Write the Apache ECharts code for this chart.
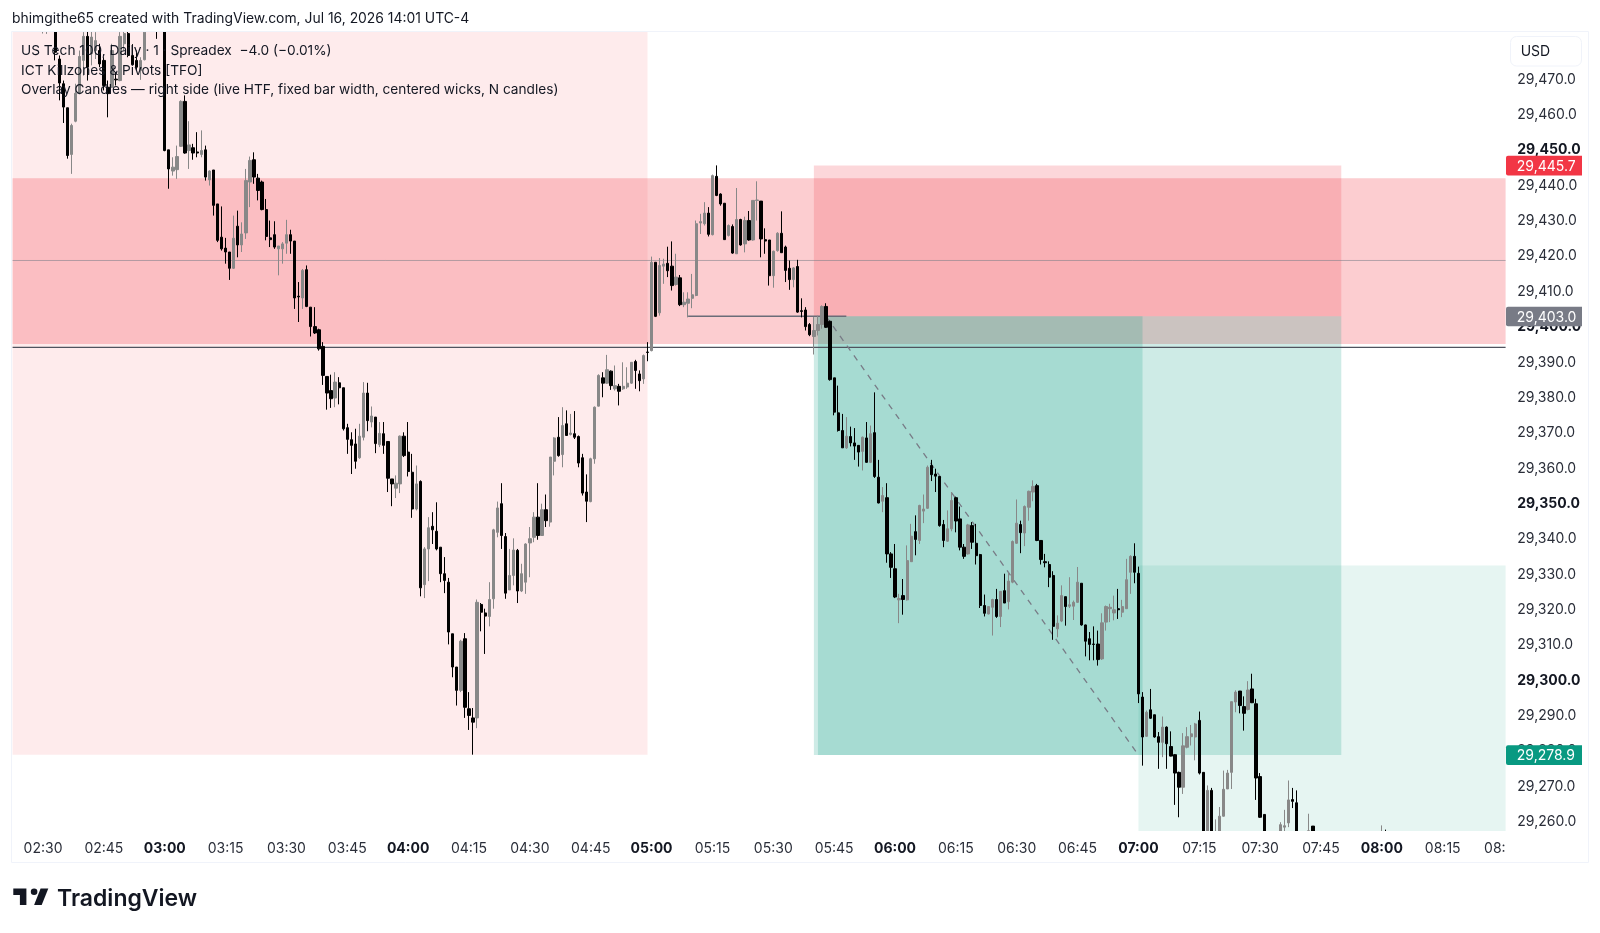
<!DOCTYPE html>
<html>
<head>
<meta charset="utf-8">
<title>US Tech 100 1-minute chart</title>
<script src="https://cdn.jsdelivr.net/npm/echarts@6/dist/echarts.min.js"></script>
<style>html,body{margin:0;padding:0;background:#fff}#chart{width:1600px;height:933px}</style>
</head>
<body>
<div id="chart"></div>
<script>
// Candle values, one per minute from 02:23.
const opens = [
29505,29500,29506,29500,29496,29502,29498,29495,29495,29498,
29490,29475.8,29468.8,29462.0,29448.8,29458.2,29466.0,29475.4,29482.2,29477.3,
29478.2,29478.2,29475.4,29467.8,29467.8,29470.1,29469.7,29480.1,29483,29476.8,
29475.4,29472.5,29475.6,29495,29490,29497,29490,29500,29450.1,29444.1,
29444.5,29451.1,29463.8,29449.9,29450.7,29449.5,29448.8,29450.1,29441.6,29444.4,
29434.8,29425.4,29422.3,29421.2,29416.6,29428.5,29423.2,29426.6,29441.0,29447.3,
29442.1,29441.0,29433.2,29425.2,29426.1,29422.1,29422.1,29423.7,29426.1,29424.3,
29408.7,29408.2,29416.2,29405.6,29400.1,29399.2,29394.5,29386.0,29382.0,29379.9,
29384.2,29382.8,29371.5,29368.1,29366.9,29363.0,29368.8,29381.3,29373.1,29374.5,
29366.7,29369.8,29367.6,29357.0,29354.4,29355.6,29369.1,29364.6,29358.9,29348.5,
29356.3,29327.1,29337.2,29343.6,29342.2,29337.7,29330.2,29327.8,29313.2,29303.8,
29297.2,29311.8,29292.0,29289.4,29289.4,29321.5,29319.1,29318.1,29323.1,29341.9,
29350.0,29340.7,29325.6,29329.7,29336.8,29325.3,29327.8,29338.9,29340.5,29346.2,
29341.0,29348.3,29344.8,29362.0,29368.8,29363.9,29372.6,29369.6,29369.8,29369.0,
29363.0,29353.3,29350.6,29362.7,29377.6,29385.6,29384.1,29387.5,29382.5,29383.2,
29382.5,29383.0,29384.1,29390.2,29386.7,29385.3,29392.9,29393.3,29418.3,29404.0,
29417.2,29418.0,29417.2,29412.0,29413.9,29406.3,29406.7,29408.1,29408.9,29429.4,
29429.2,29432.2,29426.1,29442.6,29437.6,29435.0,29425.9,29428.4,29420.7,29430.4,
29423.5,29430.1,29424.6,29435.8,29435.6,29424.7,29424.6,29414.5,29421.6,29426.5,
29422.6,29416.6,29413.4,29417.1,29404.6,29404.8,29400.7,29397.3,29399.0,29400.7,
29405.8,29401.6,29385.6,29375.7,29370.7,29365.8,29369.0,29367.2,29366.5,29364.8,
29368.6,29361.7,29370.1,29357.5,29350.7,29351.7,29335.8,29331.6,29322.8,29324.0,
29322.8,29333.6,29342.1,29339.6,29347.9,29348.7,29360.8,29358.4,29357.7,29344.1,
29339.4,29342.9,29351.7,29345.7,29337.7,29335.8,29343.8,29338.8,29335.6,29321.2,
29318.8,29320.7,29322.9,29318.1,29325.4,29322.3,29327.8,29338.8,29344.1,29341.7,
29349.0,29353.3,29355.1,29339.6,29333.6,29332.8,29329.7,29314.6,29316.8,29323.7,
29321.0,29321.0,29322.1,29327.5,29315.7,29311.8,29310.3,29310.3,29306.1,29316.5,
29320.3,29319.1,29320.3,29319.3,29320.3,29330.6,29335.1,29330.3,29295.3,29284.2,
29291.7,29290.3,29284.1,29282.5,29286.8,29281.3,29279.0,29274.0,29269.8,29281.1,
29284.1,29284.0,29288.7,29274.0,29250,29268.9,29252,29254,29261.6,29269.3,
29274.0,29293.9,29297.0,29292.6,29291.8,29297.6,29293.4,29272.8,29262.1,29244,
29250,29247,29253,29258.5,29259.7,29266.3,29265.4,29250,29244,29252,
29258.8,29252,29246,29250,29255,29248,29243,29247,29253,29246,
29250,29254,29248,29252,29247,29250,29254,29250,29255
];
const closes = [
29500,29506,29500,29496,29502,29498,29503,29500,29500,29490,
29477.7,29469.0,29462.2,29448.5,29457.0,29466.1,29476.5,29482.2,29473.5,29482,
29481,29474.4,29468.3,29466.0,29478.2,29469.9,29482.2,29483,29476.8,29474.2,
29473.5,29475.4,29483.4,29490,29497,29490,29500,29449.9,29444.7,29445.2,
29448.2,29463.8,29449.2,29451.5,29449.2,29449.2,29449.9,29442.4,29444.1,29434.4,
29424.5,29422.1,29421.2,29416.6,29425.1,29423.2,29426.3,29441.4,29447.1,29442.4,
29438.6,29433.2,29425.6,29424.7,29422.6,29422.9,29423.5,29426.1,29424.3,29408.2,
29408.5,29416.0,29405.8,29400.1,29398.3,29393.8,29386.3,29381.3,29379.7,29384.4,
29382.8,29371.2,29368.2,29366.5,29362.0,29369.1,29381.3,29373.5,29374.8,29367.0,
29369.9,29366.5,29357.2,29355.6,29355.8,29369.1,29363.6,29359.1,29348.5,29355.6,
29326.2,29337.2,29343.2,29342.6,29337.2,29330.2,29328.3,29313.7,29303.8,29297.2,
29311.1,29292.4,29290.1,29288.2,29322.1,29319.3,29318.2,29322.9,29342.6,29348.8,
29341.0,29324.7,29329.7,29336.9,29325.3,29330.2,29338.6,29340.1,29346.2,29341.0,
29348.3,29345.2,29363.2,29368.6,29363.6,29372.1,29369.3,29370.0,29368.8,29361.5,
29353.0,29350.7,29362.7,29377.3,29386.3,29384.1,29387.9,29383.4,29383.4,29381.8,
29383.2,29384.1,29390.0,29387.7,29384.8,29391.9,29392.8,29418.3,29403.0,29417.4,
29417.8,29415.9,29411.7,29414.1,29406.3,29407.0,29407.9,29409.1,29429.2,29429.8,
29432.2,29426.2,29442.8,29437.2,29434.8,29424.7,29428.7,29420.9,29430.4,29423.2,
29430.1,29424.6,29435.8,29435.9,29424.9,29424.3,29414.5,29421.4,29426.5,29421.0,
29416.0,29413.4,29416.7,29404.2,29404.4,29400.1,29397.8,29399.0,29400.7,29405.8,
29399.9,29385.1,29375.9,29370.7,29365.8,29369.1,29367.2,29366.3,29364.6,29368.8,
29361.7,29369.8,29357.7,29350.2,29352.3,29335.8,29332.0,29323.6,29323.2,29322.9,
29333.9,29340.8,29339.9,29349.5,29348.5,29360.3,29358.2,29357.8,29343.8,29339.6,
29342.9,29350.9,29345.1,29337.7,29335.1,29344.0,29339.1,29335.3,29321.2,29319.0,
29320.9,29322.9,29318.1,29325.2,29321.9,29328.1,29339.3,29344.5,29341.8,29349.2,
29353.5,29354.9,29339.6,29334.2,29333.3,29329.2,29315.3,29316.2,29324.0,29320.9,
29321.4,29322.1,29327.8,29315.7,29311.1,29310.2,29310.2,29305.9,29316.3,29320.9,
29320.7,29320.0,29320.0,29320.9,29328.5,29335.1,29330.6,29296.2,29284.0,29291.0,
29289.3,29284.0,29282.5,29286.8,29282.1,29278.6,29273.8,29269.8,29281.5,29284.1,
29284.9,29287.7,29273.8,29250,29268.9,29252,29256,29261.6,29269.2,29273.8,
29294.0,29296.7,29292.9,29290.7,29297.3,29293.7,29272.4,29261.3,29250,29250,
29247,29253,29259.2,29258.9,29266.2,29265.8,29250,29244,29252,29257.5,
29252,29246,29250,29255,29248,29243,29247,29253,29246,29250,
29254,29248,29252,29247,29250,29254,29250,29255,29251
];
const highs = [
29508,29510,29509,29503,29505,29506,29506,29505,29504,29500,
29492,29476.8,29469.7,29462.0,29457.5,29468.8,29478.2,29483.4,29485,29484,
29483.4,29480.1,29476.3,29469.7,29480.1,29472.1,29483.4,29486,29487,29480,
29478.2,29476.3,29486,29498,29499,29500,29503,29503,29450.1,29448.0,
29451.3,29464.1,29465.5,29458.2,29451.8,29455.1,29455.6,29451.3,29444.3,29444.4,
29434.8,29434.1,29425.2,29421.2,29431.5,29432.9,29429.6,29444.7,29448.2,29449.4,
29443.3,29441.4,29436.2,29430.1,29429.9,29422.9,29424.0,29430.3,29427.5,29424.3,
29412.7,29416.4,29417.4,29405.6,29405.6,29399.5,29395.7,29386.0,29386.5,29387.2,
29385.8,29382.8,29372.6,29370.2,29371.2,29372.6,29384.4,29384.2,29377.5,29374.5,
29373.1,29373.1,29367.6,29357.0,29358.0,29369.3,29370.2,29373.1,29364.1,29360.8,
29356.6,29337.7,29346.2,29347.6,29350.4,29337.7,29334.9,29329.0,29313.2,29303.8,
29311.5,29313.4,29296.7,29292.2,29322.9,29321.9,29320.3,29327.8,29342.9,29350.6,
29355.8,29341.7,29337.2,29340.2,29337.2,29333.0,29338.8,29343.4,29347.6,29355.8,
29350.0,29352.6,29363.2,29368.8,29374.5,29377.3,29376.4,29375.4,29376.2,29369.3,
29364.1,29358.3,29363.0,29377.5,29386.6,29387.2,29392.1,29387.7,29389.1,29383.9,
29390.0,29388.6,29390.0,29390.7,29387.7,29392.2,29395.7,29419.9,29418.3,29419.5,
29419.3,29422.7,29424.2,29420.7,29414.7,29409.8,29409.8,29415.0,29430.1,29432.0,
29435.3,29433.9,29443.1,29445.7,29437.8,29435.0,29429.0,29429.0,29439.3,29430.6,
29431.2,29432.8,29435.8,29441.2,29435.6,29427.9,29424.6,29421.6,29426.8,29432.7,
29423.0,29418.8,29416.9,29419.0,29408.1,29405.6,29401.1,29402.8,29403.2,29406.1,
29406.7,29401.8,29385.6,29383.4,29375.4,29374.5,29371.8,29371.4,29366.5,29369.0,
29373.1,29372.1,29381.5,29362.4,29354.7,29355.8,29336.3,29338.6,29324.5,29328.7,
29338.2,29344.3,29346.7,29349.7,29352.6,29360.8,29362.4,29359.9,29357.7,29345.4,
29348.1,29353.3,29352.0,29349.2,29338.6,29344.3,29344.8,29344.3,29335.8,29324.3,
29320.9,29323.1,29325.9,29325.2,29330.2,29330.6,29339.6,29351.2,29345.2,29349.5,
29353.7,29356.6,29355.6,29339.6,29335.8,29333.7,29330.9,29318.4,29326.9,29323.7,
29329.2,29322.6,29332.1,29327.5,29315.8,29313.7,29315.3,29314.1,29319.0,29321.2,
29321.7,29324.0,29325.9,29322.8,29334.4,29335.4,29338.8,29332.2,29296.7,29291.5,
29297.6,29290.3,29285.4,29289.8,29287.0,29285.6,29279.2,29274.2,29285.1,29286.8,
29287.4,29288.0,29291.2,29274.0,29270.3,29269.6,29260.7,29264.2,29274.5,29274.7,
29294.0,29297.2,29297.0,29295.5,29299.8,29301.9,29294.8,29273.8,29262.1,29253,
29251,29255,29259.9,29263.4,29271.7,29269.6,29268.9,29252,29254,29262.3,
29258.8,29254,29252,29256,29256,29250,29249,29255,29254,29252,
29256,29255,29253,29254,29251,29255,29256,29259,29257.8
];
const lows = [
29497,29498,29496,29494,29493,29495,29495,29483,29482.9,29486,
29475.4,29464.1,29457.7,29447.6,29443.3,29457.9,29465.8,29471.1,29469.7,29474.0,
29475.8,29473.5,29466.9,29459.3,29467.6,29468.3,29469.5,29478.2,29476.3,29474.0,
29472.4,29469.9,29475.4,29487,29488,29481.5,29487,29449.7,29439.1,29442.8,
29441.9,29450.9,29449.0,29444.7,29447.3,29448.0,29448.0,29441.4,29440.0,29431.5,
29424.0,29421.6,29417.9,29413.3,29416.4,29419.7,29421.2,29424.9,29433.9,29440.5,
29435.8,29433.0,29424.5,29422.6,29422.1,29414.6,29417.9,29420.7,29420.7,29405.1,
29401.4,29405.1,29405.6,29397.3,29398.0,29393.3,29383.6,29376.6,29377.1,29377.3,
29378.1,29370.7,29364.1,29358.4,29359.9,29362.7,29367.9,29370.5,29371.6,29364.3,
29366.0,29364.1,29353.3,29349.3,29351.6,29353.0,29363.2,29357.7,29346.0,29348.1,
29323.8,29323.3,29328.1,29338.6,29336.8,29327.8,29324.7,29310.2,29300.9,29292.9,
29296.7,29289.4,29286.0,29279.0,29286.5,29313.9,29307.5,29315.3,29320.3,29340.5,
29337.2,29323.1,29325.6,29326.9,29321.9,29325.0,29324.5,29329.2,29339.1,29339.8,
29341.0,29343.4,29343.5,29358.0,29363.3,29360.3,29369.3,29369.3,29368.3,29360.3,
29352.3,29344.8,29350.4,29361.3,29377.5,29380.1,29383.9,29382.2,29382.0,29377.8,
29382.2,29382.5,29383.9,29382.5,29381.8,29383.9,29390.3,29393.1,29402.8,29403.2,
29412.2,29414.1,29410.3,29411.7,29405.9,29405.6,29402.7,29405.3,29408.7,29426.3,
29428.7,29425.6,29425.9,29437.0,29434.3,29424.6,29425.6,29420.7,29420.7,29423.0,
29421.1,29424.4,29424.4,29430.1,29419.7,29420.7,29411.7,29411.1,29421.3,29421.0,
29412.7,29410.5,29411.2,29404.0,29402.7,29399.0,29397.4,29392.2,29397.6,29399.5,
29399.7,29384.8,29375.0,29370.4,29365.8,29365.5,29366.2,29362.4,29360.5,29359.4,
29361.6,29361.5,29357.3,29350.1,29347.6,29333.3,29329.0,29323.3,29316.2,29318.6,
29322.6,29333.5,29335.4,29338.6,29344.5,29348.5,29356.4,29353.3,29343.5,29337.7,
29339.2,29342.2,29341.9,29336.8,29334.4,29335.6,29337.2,29332.8,29320.5,29318.1,
29318.7,29312.7,29317.7,29315.1,29321.9,29320.1,29327.5,29338.6,29336.0,29338.0,
29345.2,29350.7,29339.4,29332.8,29332.0,29326.4,29311.5,29312.2,29316.5,29315.5,
29320.5,29317.1,29321.9,29315.5,29306.8,29305.7,29305.7,29304.2,29305.8,29314.1,
29316.5,29317.0,29317.4,29317.9,29320.3,29324.5,29327.5,29293.6,29275.9,29284.0,
29289.1,29283.8,29275.0,29278.3,29275.0,29278.5,29264.8,29261.3,29267.9,29280.8,
29281.6,29277.4,29273.4,29245,29247,29250,29250,29252,29261.5,29269.3,
29269.3,29291.0,29290.7,29285.8,29291.5,29293.6,29266.2,29261.1,29246,29241,
29244,29245,29251,29255,29258.5,29263.9,29248,29242,29242,29250,
29250,29244,29244,29248,29246,29241,29241,29245,29244,29244,
29248,29246,29246,29245,29245,29248,29248,29248,29249
];

// Time axis: one category per minute, 02:23 to 08:30.
const firstMinute = 2 * 60 + 23;
const lastMinute = 8 * 60 + 30;
const minuteCategories = [];
for (let m = firstMinute; m <= lastMinute; m++) {
  minuteCategories.push(String(Math.floor(m / 60)).padStart(2, '0') + ':' + String(m % 60).padStart(2, '0'));
}
const lastIdx = minuteCategories.length - 1;

// Price levels
const stopPrice = 29445.7;
const entryPrice = 29403.0;
const targetPrice = 29278.9;
const sessionLow = 29279.0;
const zoneHigh = 29442.1;
const zoneLow = 29395.2;
const midLevel = 29418.8;
const pivotLevel = 29394.2;
const greenBandTop = 29332.5;

const legendLines = [
  'US Tech 100, Daily · 1 · Spreadex  −4.0 (−0.01%)',
  'ICT Killzones & Pivots [TFO]',
  'Overlay Candles — right side (live HTF, fixed bar width, centered wicks, N candles)'
];
const watermark = 'bhimgithe65 created with TradingView.com, Jul 16, 2026 14:01 UTC-4';

const FONT = 'Inter, "Noto Sans", sans-serif';
const fmt = v => v.toLocaleString('en-US', {minimumFractionDigits: 1, maximumFractionDigits: 1});

function zone(name, i0, hi, i1, lo, color) {
  return {
    type: 'custom', name, z: 1, clip: true, silent: true,
    data: [[i0, hi, i1, lo]],
    renderItem(params, api) {
      const a = api.value(0), b = api.value(2);
      const half = api.size([1, 0])[0] / 2;
      const p0 = api.coord([a, api.value(1)]);
      const p1 = api.coord([b, api.value(3)]);
      const x0 = a === 0 ? p0[0] - half : p0[0];
      const x1 = b === lastIdx ? p1[0] + half : p1[0];
      return {type: 'rect', shape: {x: x0, y: p0[1], width: x1 - x0, height: p1[1] - p0[1]}, style: {fill: color}};
    }
  };
}
function level(name, i0, p0, i1, p1, color, width, dash) {
  return {
    type: 'custom', name, z: 2, clip: true, silent: true,
    data: [[i0, p0, i1, p1]],
    renderItem(params, api) {
      const half = api.size([1, 0])[0] / 2;
      const a = api.coord([api.value(0), api.value(1)]);
      const b = api.coord([api.value(2), api.value(3)]);
      const x0 = api.value(0) === 0 ? a[0] - half : a[0];
      const x1 = api.value(2) === lastIdx ? b[0] + half : b[0];
      return {type: 'line', shape: {x1: x0, y1: a[1], x2: x1, y2: b[1]},
        style: {stroke: color, lineWidth: width, lineDash: dash || null}};
    }
  };
}
function priceTag(name, price, color) {
  return {
    type: 'custom', name, z: 60, clip: false, silent: true,
    data: [[0, price]],
    renderItem(params, api) {
      const y = api.coord([0, api.value(1)])[1];
      const cs = params.coordSys;
      const left = cs.x + cs.width + 0.4;
      return {type: 'group', children: [
        {type: 'rect', shape: {x: left, y: y - 9.7, width: 76, height: 19.7, r: [2, 0, 0, 2]}, style: {fill: color}},
        {type: 'text', style: {text: fmt(api.value(1)), x: left + 10.8, y: y + 1, fill: '#ffffff', font: '14px ' + FONT, verticalAlign: 'middle'}}
      ]};
    }
  };
}

const candleData = opens.map((o, i) => [o, closes[i], lows[i], highs[i]]);

const textEl = (text, x, y, font, fill) => ({
  type: 'text', z: 100, silent: true, x, y,
  style: {text, fill: fill || '#131722', font: font || ('14px ' + FONT), verticalAlign: 'middle'}
});

const chart = echarts.init(document.getElementById('chart'), null, {renderer: 'canvas'});
chart.setOption({
  animation: false,
  backgroundColor: '#ffffff',
  grid: {left: 12.6, right: 94.4, top: 8.8, bottom: 75.8, containLabel: false},
  xAxis: {
    type: 'category', data: minuteCategories, boundaryGap: true, z: 50,
    axisLine: {show: false}, axisTick: {show: false}, splitLine: {show: false},
    axisLabel: {
      inside: true, margin: 1.5, hideOverlap: false, fontFamily: 'Inter', fontSize: 14, color: '#2a2e39',
      interval: (idx, val) => val.endsWith(':00') || val.endsWith(':15') || val.endsWith(':30') || val.endsWith(':45'),
      formatter: val => val.endsWith(':00') ? '{b|' + val + '}' : val,
      rich: {b: {fontFamily: 'Inter', fontSize: 14, fontWeight: 700, color: '#131722'}}
    }
  },
  yAxis: {
    type: 'value', position: 'right', z: 50,
    min: 29250, max: 29490, interval: 10,
    axisLine: {show: false}, axisTick: {show: false}, splitLine: {show: false},
    axisLabel: {
      margin: 11.7, showMinLabel: false, showMaxLabel: false,
      fontFamily: 'Inter', fontSize: 14, color: '#2a2e39',
      formatter: v => {
        if (v > 29475 || v < 29258) return '';
        return v % 50 === 0 ? '{b|' + fmt(v) + '}' : fmt(v);
      },
      rich: {b: {fontFamily: 'Inter', fontSize: 14, fontWeight: 700, color: '#131722'}}
    }
  },
  series: [
    zone('Killzone', 0, 29490, 156, sessionLow, 'rgba(242,54,69,0.1)'),
    zone('Resistance zone', 0, zoneHigh, lastIdx, zoneLow, 'rgba(242,54,69,0.25)'),
    zone('Stop area', 197, stopPrice, 327, entryPrice, 'rgba(242,54,69,0.2)'),
    zone('Target area', 197, entryPrice, 327, targetPrice, 'rgba(8,153,129,0.2)'),
    zone('Target area active', 198, entryPrice, 278, targetPrice, 'rgba(8,153,129,0.2)'),
    zone('Support zone', 277, greenBandTop, lastIdx, 29240, 'rgba(8,153,129,0.1)'),
    level('Mid level', 0, midLevel, lastIdx, midLevel, 'rgba(120,123,134,0.55)', 1),
    level('Pivot level', 0, pivotLevel, lastIdx, pivotLevel, '#50535e', 1.3),
    level('Entry level', 166, entryPrice, 205, entryPrice, '#6a6d78', 1.5),
    level('Trade path', 200, entryPrice, 277, targetPrice, '#787b86', 1.3, [6, 6]),
    {
      type: 'candlestick', name: 'US Tech 100', z: 5, clip: true,
      barWidth: 2.8, data: candleData,
      itemStyle: {color: '#888888', color0: '#000000', borderColor: '#888888', borderColor0: '#000000', borderWidth: 1}
    },
    priceTag('Stop tag', stopPrice, '#f23645'),
    priceTag('Entry tag', entryPrice, '#787b86'),
    priceTag('Target tag', targetPrice, '#089981')
  ],
  graphic: {elements: [
    {type: 'rect', z: 40, silent: true, shape: {x: 0, y: 0, width: 1600, height: 31}, style: {fill: '#ffffff'}},
    {type: 'rect', z: 40, silent: true, shape: {x: 0, y: 831, width: 1600, height: 102}, style: {fill: '#ffffff'}},
    {type: 'rect', z: 45, silent: true, shape: {x: 11.5, y: 31.5, width: 1577, height: 831}, style: {fill: 'none', stroke: '#f0f3fa', lineWidth: 1}},
    {type: 'rect', z: 60, silent: true, shape: {x: 1506, y: 836, width: 80, height: 24}, style: {fill: '#ffffff'}},
    {type: 'rect', z: 60, silent: true, shape: {x: 1510.5, y: 36.5, width: 71, height: 29.5, r: 6}, style: {fill: '#ffffff', stroke: '#f0f3fa', lineWidth: 1}},
    textEl('USD', 1520.7, 52),
    textEl(watermark, 12, 19, '13.9px ' + FONT),
    textEl(legendLines[0], 21, 51, '13.7px ' + FONT),
    textEl(legendLines[1], 21, 70.5, '13.7px ' + FONT),
    textEl(legendLines[2], 21, 89.8, '13.7px ' + FONT),
    {type: 'polygon', z: 100, silent: true, shape: {points: [[13.3,888.5],[26.4,888.5],[26.4,905],[19.9,905],[19.9,895.1],[13.3,895.1]]}, style: {fill: '#131722'}},
    {type: 'polygon', z: 100, silent: true, shape: {points: [[41.7,905],[34.1,905],[40.6,888.5],[48.3,888.5]]}, style: {fill: '#131722'}},
    {type: 'circle', z: 100, silent: true, shape: {cx: 34.1, cy: 891.8, r: 3.3}, style: {fill: '#131722'}},
    textEl('TradingView', 57, 899.5, '600 23px ' + FONT)
  ]}
});
</script>
</body>
</html>
